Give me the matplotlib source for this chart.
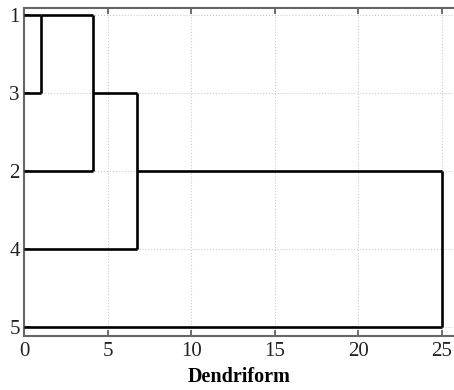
import matplotlib
matplotlib.use("Agg")
import matplotlib.pyplot as plt

# ---------- data ----------
leaf_labels = ["1", "3", "2", "4", "5"]      # top to bottom
leaf_rows = [1, 2, 3, 4, 5]
# merges: (height, row of upper branch, row of lower branch)
merge_height = [1.0, 4.13, 6.76, 25.0]
merge_top = [1, 1, 2, 3]
merge_bot = [2, 3, 4, 5]
# where each branch starts (x) at a merge
branch_start_top = [0.0, 1.0, 4.13, 6.76]
branch_start_bot = [0.0, 0.0, 0.0, 0.0]
x_ticks = [0, 5, 10, 15, 20, 25]

plt.rcParams["font.family"] = ["Liberation Serif", "DejaVu Serif"]

fig = plt.figure(figsize=(4.54, 3.90), dpi=100)
ax = fig.add_axes([24 / 454, 54 / 390, 430 / 454, 328 / 390])

lw = 1.9
for h, t, b, st, sb in zip(merge_height, merge_top, merge_bot,
                           branch_start_top, branch_start_bot):
    ax.plot([st, h], [t, t], color="black", lw=lw, solid_capstyle="butt", zorder=3)
    ax.plot([sb, h], [b, b], color="black", lw=lw, solid_capstyle="butt", zorder=3)
    ax.plot([h, h], [t, b], color="black", lw=lw, solid_capstyle="butt", zorder=3)

ax.set_xlim(0, 430 / 16.72)
ax.set_ylim(5.116, 0.905)
ax.set_xticks(x_ticks)
ax.set_yticks(leaf_rows)
ax.set_yticklabels(leaf_labels)
ax.tick_params(axis="both", direction="in", labelsize=15, colors="#555555",
               labelcolor="#222222", top=True, left=True, length=4, width=1.2, pad=4)
ax.tick_params(axis="y", pad=3)

ax.grid(True, linestyle=":", color="#cccccc", lw=0.8)
for s in ["left", "top", "bottom"]:
    ax.spines[s].set_color("#666666")
    ax.spines[s].set_linewidth(1.5)
ax.spines["right"].set_visible(False)

ax.set_xlabel("Dendriform", fontsize=14.5, fontweight="bold", labelpad=5)

fig.savefig("out.png", dpi=100)
